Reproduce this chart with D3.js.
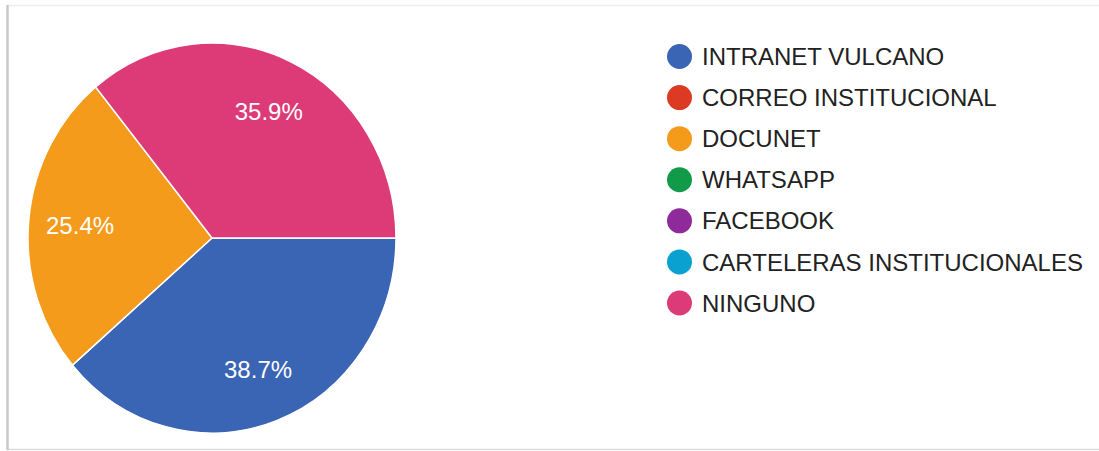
<!DOCTYPE html>
<html>
<head>
<meta charset="utf-8">
<script src="https://cdn.jsdelivr.net/npm/d3@7"></script>
<style>
  html, body { margin: 0; padding: 0; background: #fff; }
  svg { display: block; }
</style>
</head>
<body>
<div id="chart"></div>
<script>
(function () {
"use strict";

// Data
var categories = ["INTRANET VULCANO", "CORREO INSTITUCIONAL", "DOCUNET", "WHATSAPP",
                  "FACEBOOK", "CARTELERAS INSTITUCIONALES", "NINGUNO"];
var values = [38.7, 0, 25.4, 0, 0, 0, 35.9];
var colors = ["#3a64b4", "#dc3a22", "#f49b1c", "#119a48", "#8e2a9a", "#0aa0d0", "#dc3b77"];

var fullWidth = 1099,
    fullHeight = 451;

var cx = 212, cy = 238,
    radius = 184,
    squash = 195 / 184;   // the picture is a bit taller than wide

var svg = d3.select("#chart").append("svg")
  .attr("width", fullWidth)
  .attr("height", fullHeight)
  .attr("viewBox", "0 0 " + fullWidth + " " + fullHeight);

// Frame round the chart
svg.append("line")
  .attr("x1", 7).attr("x2", 1099).attr("y1", 5.5).attr("y2", 5.5)
  .style("stroke", "#ececec").style("stroke-width", 1.5);
svg.append("line")
  .attr("x1", 7).attr("x2", 1099).attr("y1", 449.5).attr("y2", 449.5)
  .style("stroke", "#dcdcdc").style("stroke-width", 1.5);
svg.append("line")
  .attr("x1", 7.5).attr("x2", 7.5).attr("y1", 5).attr("y2", 450)
  .style("stroke", "#c9c9c9").style("stroke-width", 2.5);

var data = categories.map(function (c, i) {
  return { name: c, value: values[i], color: colors[i] };
});

var pie = d3.pie()
  .sort(null)
  .value(function (d) { return d.value; })
  .startAngle(Math.PI / 2)
  .endAngle(Math.PI / 2 + 2 * Math.PI);

var arcs = pie(data).filter(function (d) { return d.data.value > 0; });

var arc = d3.arc().innerRadius(0).outerRadius(radius);
var labelArc = d3.arc().innerRadius(radius * 0.72).outerRadius(radius * 0.72);

var pieGroup = svg.append("g")
  .attr("transform", "translate(" + cx + "," + cy + ") scale(1," + squash + ")");

pieGroup.selectAll("path.slice")
  .data(arcs)
  .enter()
  .append("path")
    .attr("class", "slice")
    .attr("d", arc)
    .style("fill", function (d) { return d.data.color; })
    .style("stroke", "#fff")
    .style("stroke-width", 1.5)
    .style("vector-effect", "non-scaling-stroke");

// Percent labels (kept unsquashed)
svg.append("g")
    .attr("transform", "translate(" + cx + "," + cy + ")")
  .selectAll("text")
    .data(arcs)
  .enter()
    .append("text")
      .attr("x", function (d) { return labelArc.centroid(d)[0]; })
      .attr("y", function (d) { return labelArc.centroid(d)[1] * squash; })
      .attr("dy", "0.36em")
      .style("text-anchor", "middle")
      .style("fill", "#fff")
      .style("font-family", "'Liberation Sans', Arial, sans-serif")
      .style("font-size", "24px")
      .text(function (d) { return d.data.value.toFixed(1) + "%"; });

// Legend
var yLegend = d3.scalePoint()
  .domain(categories)
  .range([56.5, 303]);

var legend = svg.append("g").attr("class", "legend");

var item = legend.selectAll("g")
  .data(data)
  .enter()
  .append("g")
    .attr("transform", function (d) { return "translate(0," + yLegend(d.name) + ")"; });

item.append("circle")
  .attr("cx", 679.5)
  .attr("cy", 0)
  .attr("r", 12.5)
  .style("fill", function (d) { return d.color; });

item.append("text")
  .attr("x", 702)
  .attr("y", 0)
  .attr("dy", "0.36em")
  .style("fill", "#222")
  .style("font-family", "'Liberation Sans', Arial, sans-serif")
  .style("font-size", "24px")
  .text(function (d) { return d.name; });

})();
</script>
</body>
</html>
